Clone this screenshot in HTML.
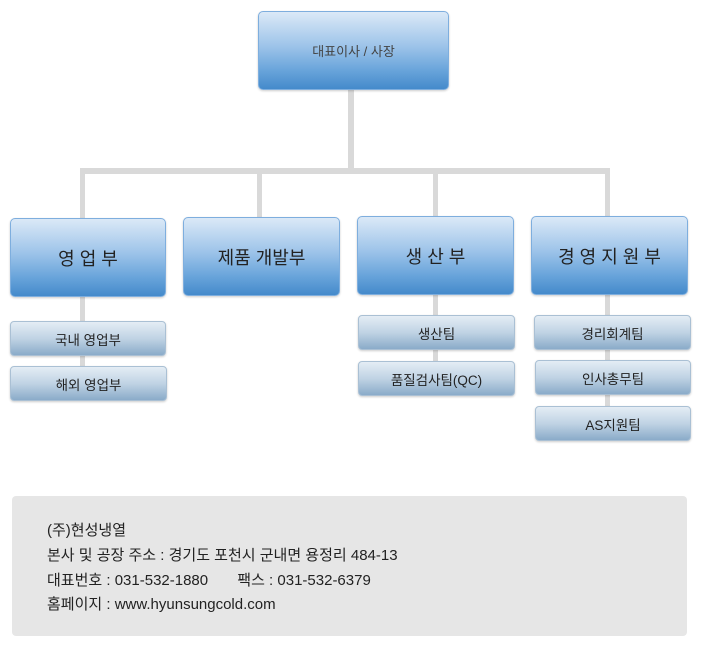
<!DOCTYPE html>
<html><head><meta charset="utf-8"><style>
body{margin:0;width:703px;height:648px;background:#fff;position:relative;font-family:"Liberation Sans","Noto Sans CJK KR",sans-serif;overflow:hidden}
.l{position:absolute;background:#d9d9d9}
.b{position:absolute;box-sizing:border-box;border:1px solid #7eaede;border-radius:5px;background:linear-gradient(#dbe9f7,#9cc3e9 45%,#6aa5db 75%,#448acb);display:flex;align-items:center;justify-content:center;color:#222;font-size:18px;box-shadow:0 1px 2px rgba(0,0,0,.2)}
.s{position:absolute;box-sizing:border-box;border:1px solid #aac0d4;border-radius:4px;background:linear-gradient(#e4edf5,#c0d3e4 50%,#8aabc9);display:flex;align-items:center;justify-content:center;color:#222;font-size:13.5px;box-shadow:0 1px 2px rgba(0,0,0,.2)}
.f{position:absolute;left:12px;top:496px;width:675px;height:140px;background:#e6e6e6;border-radius:4px}
.f div{position:absolute;left:35px;font-size:15px;color:#222;white-space:nowrap}
</style></head><body>
<div class="l" style="left:348px;top:89px;width:6px;height:84px"></div>
<div class="l" style="left:80px;top:168px;width:530px;height:6px"></div>
<div class="l" style="left:80px;top:168px;width:5px;height:200px"></div>
<div class="l" style="left:257px;top:168px;width:5px;height:50px"></div>
<div class="l" style="left:433px;top:168px;width:5px;height:195px"></div>
<div class="l" style="left:605px;top:168px;width:5px;height:240px"></div>

<div class="b" style="left:258px;top:11px;width:191px;height:79px;font-size:13px;color:#444">대표이사 / 사장</div>
<div class="b" style="left:10px;top:218px;width:156px;height:79px">영 업 부</div>
<div class="b" style="left:183px;top:217px;width:157px;height:79px">제품 개발부</div>
<div class="b" style="left:357px;top:216px;width:157px;height:79px">생 산 부</div>
<div class="b" style="left:531px;top:216px;width:157px;height:79px">경 영 지 원 부</div>

<div class="s" style="left:10px;top:321px;width:156px;height:35px">국내 영업부</div>
<div class="s" style="left:10px;top:366px;width:157px;height:35px">해외 영업부</div>
<div class="s" style="left:358px;top:315px;width:157px;height:35px">생산팀</div>
<div class="s" style="left:358px;top:361px;width:157px;height:35px">품질검사팀(QC)</div>
<div class="s" style="left:534px;top:315px;width:157px;height:35px">경리회계팀</div>
<div class="s" style="left:535px;top:360px;width:156px;height:35px">인사총무팀</div>
<div class="s" style="left:535px;top:406px;width:156px;height:35px">AS지원팀</div>

<div class="f">
<div style="top:23px">(주)현성냉열</div>
<div style="top:48px">본사 및 공장 주소 : 경기도 포천시 군내면 용정리 484-13</div>
<div style="top:73px">대표번호 : 031-532-1880&nbsp;&nbsp;&nbsp;&nbsp;&nbsp;&nbsp;&nbsp;팩스 : 031-532-6379</div>
<div style="top:97px">홈페이지 : www.hyunsungcold.com</div>
</div>
</body></html>
